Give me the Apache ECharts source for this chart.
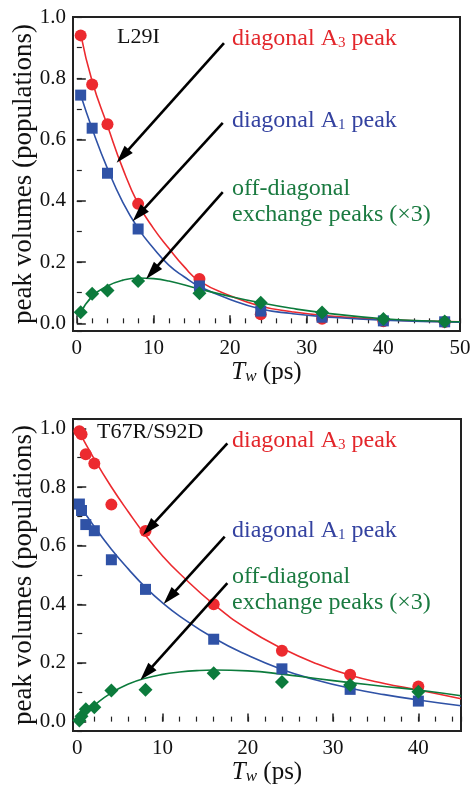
<!DOCTYPE html>
<html><head><meta charset="utf-8">
<script src="https://cdn.jsdelivr.net/npm/echarts@6/dist/echarts.min.js"></script>
<style>html,body{margin:0;padding:0;background:#fff}#c{width:471px;height:793px}</style>
</head><body><div id="c"></div><script>
const FONT = "'Liberation Serif','Times New Roman',serif";

// ---- Panel 1: L29I ----
const l29iRedPts   = [[0.5,0.94],[2,0.78],[4,0.65],[8,0.39],[16,0.145],[24,0.03],[32,0.015],[40,0.007],[48,0.004]];
const l29iBluePts  = [[0.5,0.745],[2,0.637],[4,0.49],[8,0.308],[16,0.122],[24,0.04],[32,0.02],[40,0.008],[48,0.005]];
const l29iGreenPts = [[0.5,0.036],[2,0.097],[4,0.107],[8,0.138],[16,0.098],[24,0.067],[32,0.035],[40,0.014],[48,0.006]];
const l29iRedFit   = [[0.5,0.945],[2,0.79],[4,0.645],[6,0.505],[8,0.39],[10,0.31],[12,0.245],[14,0.185],[16,0.138],[20,0.09],[24,0.056],[28,0.038],[32,0.026],[40,0.012],[50,0.005]];
const l29iBlueFit  = [[0.5,0.745],[2,0.635],[4,0.505],[6,0.395],[8,0.31],[10,0.245],[12,0.19],[14,0.152],[16,0.12],[20,0.078],[24,0.047],[28,0.032],[32,0.022],[40,0.01],[50,0.004]];
const l29iGreenFit = [[0.5,0.034],[2,0.088],[4,0.122],[6,0.141],[8,0.148],[10,0.146],[12,0.138],[16,0.112],[20,0.088],[24,0.067],[28,0.049],[32,0.035],[40,0.015],[48,0.006],[50,0.005]];

// ---- Panel 2: T67R/S92D ----
const tsRedPts   = [[0.25,0.99],[0.5,0.98],[1,0.912],[2,0.88],[4,0.74],[8,0.65],[16,0.40],[24,0.242],[32,0.16],[40,0.12]];
const tsBluePts  = [[0.25,0.742],[0.5,0.72],[1,0.672],[2,0.651],[4,0.552],[8,0.451],[16,0.281],[24,0.18],[32,0.11],[40,0.07]];
const tsGreenPts = [[0.25,0.004],[0.5,0.018],[1,0.042],[2,0.049],[4,0.106],[8,0.109],[16,0.165],[24,0.135],[32,0.125],[40,0.102]];
const tsRedFit   = [[0,1.0],[2,0.895],[4,0.80],[6,0.715],[8,0.635],[10,0.565],[12,0.505],[16,0.40],[20,0.315],[24,0.25],[28,0.198],[32,0.158],[36,0.13],[40,0.108],[45,0.078]];
const tsBlueFit  = [[0,0.75],[2,0.665],[4,0.588],[6,0.52],[8,0.458],[10,0.405],[12,0.36],[16,0.285],[20,0.226],[24,0.178],[28,0.142],[32,0.114],[36,0.092],[40,0.074],[45,0.054]];
const tsGreenFit = [[0,0.0],[1,0.03],[2,0.056],[4,0.098],[6,0.128],[8,0.148],[10,0.161],[12,0.169],[14,0.174],[16,0.176],[20,0.173],[24,0.162],[28,0.147],[32,0.133],[36,0.12],[40,0.108],[45,0.088]];

// tick label values
const xTicks1 = [0,10,20,30,40,50];
const xTicks2 = [0,10,20,30,40];
const yTicks  = [0.0,0.2,0.4,0.6,0.8,1.0];

const RED = '#ec2a2f', BLUE = '#2f52a6', GREEN = '#0c7b3c';
const RED_T = '#e3262b', BLUE_T = '#3442a0', GREEN_T = '#1a7a40';
const AX = '#222';

const chart = echarts.init(document.getElementById('c'), null, {renderer:'canvas', width:471, height:793});

function xMajor(g, min, max, ticks, gap) {
  return {gridIndex:g, type:'value', min:min, max:max, splitNumber:5,
    axisLine:{show:false}, splitLine:{show:false},
    axisTick:{inside:true, length:8, lineStyle:{color:AX, width:1.5}},
    axisLabel:{fontFamily:FONT, fontSize:21, color:'#111', margin:7,
      formatter: v => ticks.some(t => Math.abs(t - v) < 1e-9) ? String(v) : ''},
    name:'{t|T}{w|w}{n| (ps)}', nameLocation:'middle', nameGap:gap,
    nameTextStyle:{fontFamily:FONT, color:'#111',
      rich:{t:{fontFamily:FONT, fontSize:25, fontStyle:'italic', color:'#111', lineHeight:25, verticalAlign:'bottom'},
            w:{fontFamily:FONT, fontSize:17, fontStyle:'italic', color:'#111', lineHeight:14, verticalAlign:'bottom'},
            n:{fontFamily:FONT, fontSize:25, color:'#111', lineHeight:25, verticalAlign:'bottom'}}}};
}
function xMinor(g, min, max, split) {
  return {gridIndex:g, type:'value', min:min, max:max, splitNumber:split, position:'bottom',
    axisLine:{show:false}, splitLine:{show:false}, axisLabel:{show:false},
    axisTick:{inside:true, length:5, lineStyle:{color:AX, width:1.2}}};
}
function yMajor(g, min, max) {
  return {gridIndex:g, type:'value', min:min, max:max, splitNumber:5,
    axisLine:{show:false}, splitLine:{show:false},
    axisTick:{inside:true, length:9, lineStyle:{color:AX, width:1.5}},
    axisLabel:{fontFamily:FONT, fontSize:21, color:'#111', margin:7,
      formatter: v => yTicks.some(t => Math.abs(t - v) < 1e-9) ? v.toFixed(1) : ''},
    name:'peak volumes (populations)', nameLocation:'middle', nameGap:36, nameMoveOverlap:false,
    nameTextStyle:{fontFamily:FONT, fontSize:27, color:'#111'}};
}
function yMinor(g, min, max) {
  return {gridIndex:g, type:'value', min:min, max:max, splitNumber:10, position:'left',
    axisLine:{show:false}, splitLine:{show:false}, axisLabel:{show:false},
    axisTick:{inside:true, length:5, lineStyle:{color:AX, width:1.2}}};
}

function fit(xi, yi, data, color, arrows) {
  const s = {type:'line', xAxisIndex:xi, yAxisIndex:yi, data:data, smooth:0.5,
    showSymbol:false, symbol:'none', lineStyle:{color:color, width:1.6}, silent:true, z:2};
  if (arrows) {
    s.markLine = {silent:true, symbol:['none','path://M5,0 L10,17 L0,17 Z'], symbolSize:[11,18],
      label:{show:false}, lineStyle:{color:'#000', width:2.6, type:'solid'},
      itemStyle:{color:'#000'},
      emphasis:{disabled:true}, animation:false,
      data: arrows.map(a => [{coord:a[0]}, {coord:a[1]}])};
  }
  return s;
}
function pts(xi, yi, data, color, symbol, size, z) {
  return {type:'scatter', xAxisIndex:xi, yAxisIndex:yi, data:data, symbol:symbol, symbolSize:size,
    itemStyle:{color:color, opacity:1}, silent:true, z:z};
}

const arrowsTop = [
  [[19.2,0.915],[5.98,0.546]],
  [[19.04,0.654],[8.08,0.355]],
  [[19.04,0.428],[9.82,0.167]]
];
const arrowsBot = [
  [[17.6,0.949],[8.42,0.659]],
  [[17.29,0.631],[10.83,0.424]],
  [[17.6,0.472],[8.11,0.165]]
];

function lab(x, y, text, color, size) {
  return {type:'text', left:x, top:y, z:100,
    style:{text:text, fill:color, font:size + 'px ' + FONT,
      rich:{a:{fontFamily:FONT, fontSize:size, fill:color, color:color, lineHeight:size, verticalAlign:'bottom'},
            s:{fontFamily:FONT, fontSize:15, fill:color, color:color, lineHeight:8, verticalAlign:'bottom'}}}};
}

const option = {
  animation:false,
  backgroundColor:'#fff',
  grid:[
    {left:73, top:17, width:387, height:314, show:true, borderColor:AX, borderWidth:2, backgroundColor:'transparent', containLabel:false, outerBoundsMode:'none'},
    {left:73, top:419, width:388, height:312, show:true, borderColor:AX, borderWidth:2, backgroundColor:'transparent', containLabel:false, outerBoundsMode:'none'}
  ],
  xAxis:[ xMajor(0,-0.5,50,xTicks1,29), xMinor(0,-0.5,50,25), xMajor(1,-0.5,45,xTicks2,23), xMinor(1,-0.5,45,23) ],
  yAxis:[ yMajor(0,-0.025,1.0), yMinor(0,-0.025,1.0), yMajor(1,-0.032,1.032), yMinor(1,-0.032,1.032) ],
  series:[
    fit(0,0,l29iRedFit,RED,null),
    fit(0,0,l29iBlueFit,BLUE,null),
    fit(0,0,l29iGreenFit,GREEN,arrowsTop),
    pts(0,0,l29iRedPts,RED,'circle',12,3),
    pts(0,0,l29iBluePts,BLUE,'rect',11,4),
    pts(0,0,l29iGreenPts,GREEN,'diamond',14,5),
    fit(2,2,tsRedFit,RED,null),
    fit(2,2,tsBlueFit,BLUE,null),
    fit(2,2,tsGreenFit,GREEN,arrowsBot),
    pts(2,2,tsRedPts,RED,'circle',12,3),
    pts(2,2,tsBluePts,BLUE,'rect',11,4),
    pts(2,2,tsGreenPts,GREEN,'diamond',14,5)
  ],
  graphic:[
    lab(117, 26, '{a|L29I}', '#111', 22),
    lab(232, 27, '{a|diagonal A}{s|3}{a| peak}', RED_T, 24),
    lab(232, 109, '{a|diagonal A}{s|1}{a| peak}', BLUE_T, 24),
    lab(232, 177, '{a|off-diagonal}', GREEN_T, 24),
    lab(232, 203, '{a|exchange peaks (\u00d73)}', GREEN_T, 24),
    lab(97, 421, '{a|T67R/S92D}', '#111', 22),
    lab(232, 429, '{a|diagonal A}{s|3}{a| peak}', RED_T, 24),
    lab(232, 519, '{a|diagonal A}{s|1}{a| peak}', BLUE_T, 24),
    lab(232, 565, '{a|off-diagonal}', GREEN_T, 24),
    lab(232, 591, '{a|exchange peaks (\u00d73)}', GREEN_T, 24)
  ]
};
chart.setOption(option);
</script></body></html>
